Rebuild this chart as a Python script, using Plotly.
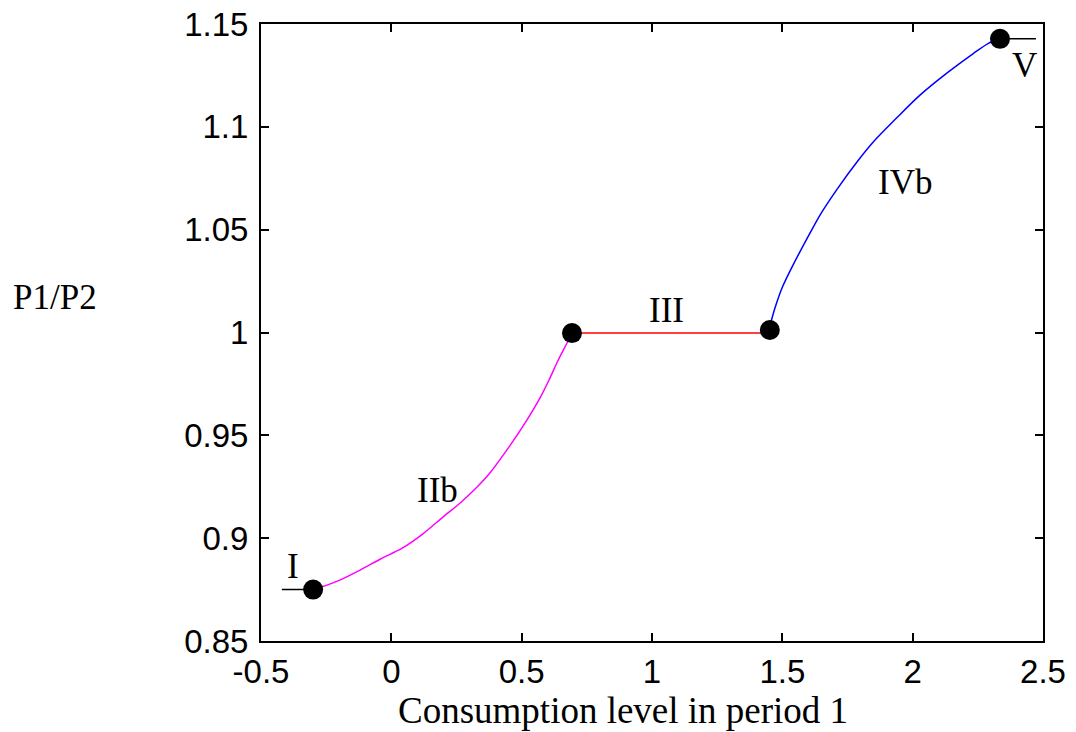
import plotly.graph_objects as go

# Region IIb (magenta)
iib_x = [-0.275, -0.20, -0.12, -0.04, 0.04, 0.12, 0.20, 0.263, 0.33, 0.378, 0.455, 0.52, 0.57, 0.605, 0.64, 0.674, 0.693]
iib_y = [0.8760, 0.8795, 0.8845, 0.8900, 0.8950, 0.9020, 0.9105, 0.9170, 0.9250, 0.9317, 0.9450, 0.9574, 0.9681, 0.9769, 0.9865, 0.9949, 0.9997]

# Region III (red)
iii_x = [0.693, 1.452]
iii_y = [0.9997, 0.9997]

# Region IVb (blue)
ivb_x = [1.452, 1.472, 1.50, 1.537, 1.606, 1.644, 1.709, 1.790, 1.848, 1.940, 2.028, 2.131, 2.231, 2.289, 2.335]
ivb_y = [1.003, 1.012, 1.022, 1.0318, 1.0483, 1.057, 1.0695, 1.0835, 1.0925, 1.1045, 1.1154, 1.1261, 1.1355, 1.1405, 1.1428]

# Key points
pt_x = [-0.30, 0.693, 1.452, 2.335]
pt_y = [0.875, 0.9997, 1.0012, 1.1428]

# Short black stubs at I and V
stub_i_x = [-0.42, -0.30]
stub_i_y = [0.875, 0.875]
stub_v_x = [2.335, 2.473]
stub_v_y = [1.1428, 1.1428]

labels = ["I", "IIb", "III", "IVb", "V"]
label_x = [-0.377, 0.179, 1.057, 1.97, 2.43]
label_y = [0.886, 0.9234, 1.0109, 1.0731, 1.1300]

xticks = [-0.5, 0, 0.5, 1, 1.5, 2, 2.5]
xticktext = ["-0.5", "0", "0.5", "1", "1.5", "2", "2.5"]
yticks = [0.85, 0.9, 0.95, 1.0, 1.05, 1.1, 1.15]
yticktext = ["0.85", "0.9", "0.95", "1", "1.05", "1.1", "1.15"]

fig = go.Figure()
fig.add_trace(go.Scatter(x=iib_x, y=iib_y, mode="lines", line=dict(color="#ff00ff", width=1.5, shape="spline", smoothing=0.8)))
fig.add_trace(go.Scatter(x=iii_x, y=iii_y, mode="lines", line=dict(color="#ff0000", width=1.5)))
fig.add_trace(go.Scatter(x=ivb_x, y=ivb_y, mode="lines", line=dict(color="#0000ff", width=1.5, shape="spline", smoothing=0.8)))
fig.add_trace(go.Scatter(x=stub_i_x, y=stub_i_y, mode="lines", line=dict(color="black", width=1.5)))
fig.add_trace(go.Scatter(x=stub_v_x, y=stub_v_y, mode="lines", line=dict(color="black", width=1.5)))
fig.add_trace(go.Scatter(x=pt_x, y=pt_y, mode="markers", marker=dict(color="black", size=20)))

serif = "Liberation Serif, Times New Roman, serif"
for t, lx, ly in zip(labels, label_x, label_y):
    fig.add_annotation(x=lx, y=ly, xref="x", yref="y", text=t, showarrow=False,
                       xanchor="center", yanchor="middle",
                       font=dict(family=serif, size=35, color="black"))

fig.add_annotation(x=-0.2634, y=0.5575, xref="paper", yref="paper", text="P1/P2", showarrow=False,
                   xanchor="center", yanchor="middle",
                   font=dict(family=serif, size=35, color="black"))
fig.add_annotation(x=0.463, y=-0.112, xref="paper", yref="paper", text="Consumption level in period 1",
                   showarrow=False, xanchor="center", yanchor="middle",
                   font=dict(family=serif, size=37, color="black"))

axis_common = dict(showline=True, linecolor="black", linewidth=2, mirror="ticks", ticks="inside",
                   ticklen=8, tickwidth=1.5, tickcolor="black", showgrid=False, zeroline=False,
                   automargin=False, ticklabeloverflow="allow",
                   tickfont=dict(family="Liberation Sans, Arial, sans-serif", size=33, color="black"))

fig.update_layout(
    width=1076, height=732,
    margin=dict(l=261, r=33, t=24, b=91),
    paper_bgcolor="white", plot_bgcolor="white",
    showlegend=False,
    xaxis=dict(range=[-0.5, 2.5], tickvals=xticks, ticktext=xticktext, ticklabelstandoff=0, **axis_common),
    yaxis=dict(range=[0.85, 1.15], tickvals=yticks, ticktext=yticktext, ticklabelstandoff=4, **axis_common),
)

fig.write_html("out.html", config={"displayModeBar": False},
               post_script="document.body.style.margin='0';document.body.style.overflow='hidden';")
